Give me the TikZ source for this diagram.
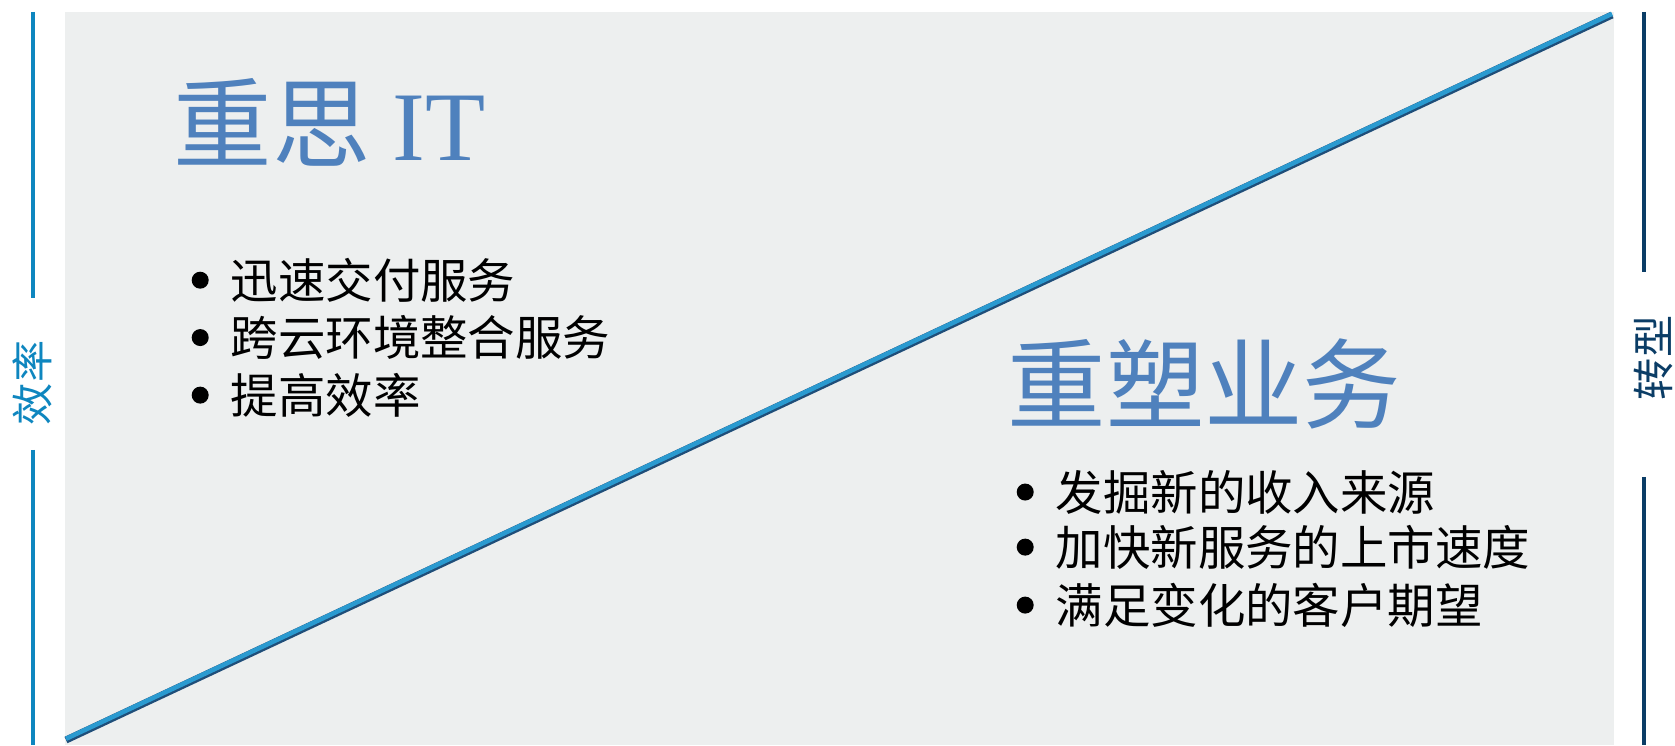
\documentclass[tikz,border=0pt]{standalone}
\usepackage{fontspec}
\setmainfont{Liberation Serif}
\newfontfamily\cjk{Noto Sans CJK SC}
\newfontfamily\latinserif{Liberation Serif}
\usetikzlibrary{positioning}

\definecolor{panelgray}{HTML}{EDEFEF}
\definecolor{effblue}{HTML}{0E86BF}
\definecolor{navyblue}{HTML}{0B3D66}
\definecolor{titleblue}{HTML}{4F81BD}
\definecolor{linedark}{HTML}{1F4E79}
\definecolor{linelight}{HTML}{2A9AD0}

\newcommand{\bulletbox}{\makebox[0.45cm][l]{\hspace*{0.06cm}\tikz[baseline=-0.18cm]\fill (0,0) circle (0.085cm);}}

\tikzset{
  sidelabel/.style={font=\cjk\fontsize{12}{14}\selectfont, rotate=90, inner sep=0pt},
  sidebar/.style={line width=0.04cm},
  bigtitle/.style={font=\cjk\fontsize{28}{32}\selectfont, text=titleblue, anchor=west, inner sep=0pt},
  listitem/.style={font=\cjk\fontsize{13.5}{16}\selectfont, text=black, anchor=west, inner sep=0pt}
}

\begin{document}
\begin{tikzpicture}
\useasboundingbox[fill=white] (0,0) rectangle (16.75,7.45);
\fill[panelgray] (0.65,0) rectangle (16.14,7.33);

% diagonal
\coordinate (lo) at (0.66,0.05);
\coordinate (hi) at (16.12,7.30);
\draw[linedark,line width=0.07cm] (lo) -- (hi);
\draw[linelight,line width=0.045cm] ([yshift=0.012cm]lo) -- ([yshift=0.012cm]hi);

% left side
\node[sidelabel,text=effblue] (eff) at (0.32,3.62) {效率};
\draw[sidebar,effblue] (0.33,7.33) -- (0.33,4.47);
\draw[sidebar,effblue] (0.33,2.95) -- (0.33,0);

% right side
\node[sidelabel,text=navyblue] (trans) at (16.53,3.87) {转型};
\draw[sidebar,navyblue] (16.44,7.33) -- (16.44,4.73);
\draw[sidebar,navyblue] (16.44,2.68) -- (16.44,0);

% upper left block
\node[bigtitle] (rethink) at (1.73,6.23) {重思 {\latinserif IT}};
\node[listitem] (it1) at (1.85,4.65) {\bulletbox 迅速交付服务};
\node[listitem,below=0.575cm of it1.west,anchor=west] (it2) {\bulletbox 跨云环境整合服务};
\node[listitem,below=0.575cm of it2.west,anchor=west] (it3) {\bulletbox 提高效率};

% lower right block
\node[bigtitle] (reshape) at (10.07,3.61) {重塑业务};
\node[listitem] (bz1) at (10.10,2.53) {\bulletbox 发掘新的收入来源};
\node[listitem,below=0.55cm of bz1.west,anchor=west] (bz2) {\bulletbox 加快新服务的上市速度};
\node[listitem,below=0.58cm of bz2.west,anchor=west] (bz3) {\bulletbox 满足变化的客户期望};

\end{tikzpicture}
\end{document}
